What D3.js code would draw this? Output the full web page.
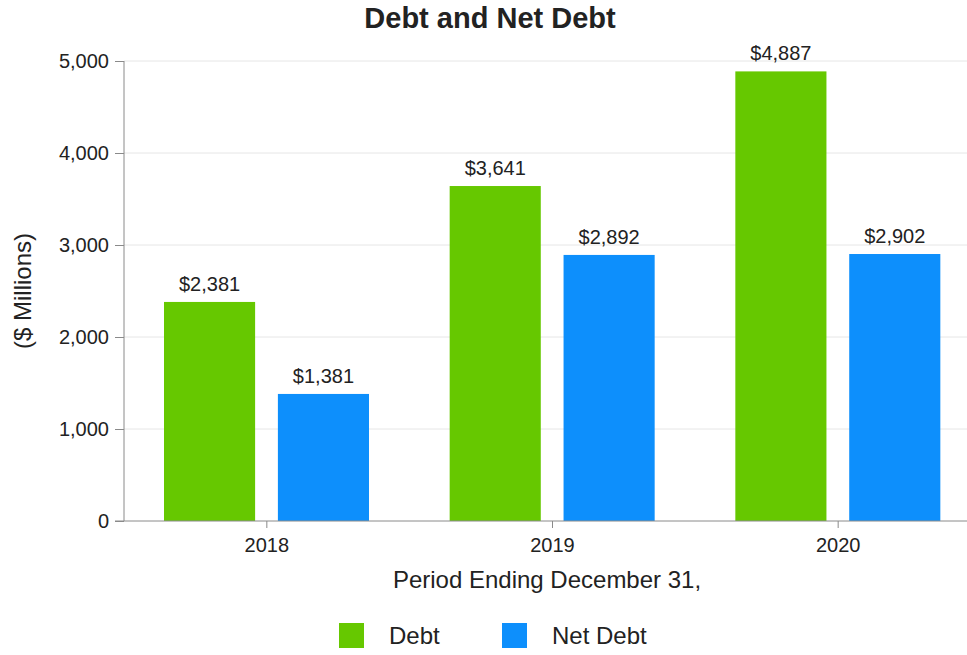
<!DOCTYPE html>
<html>
<head>
<meta charset="utf-8">
<script src="https://cdn.jsdelivr.net/npm/d3@7"></script>
<style>
  html, body { margin: 0; padding: 0; background: #fff; }
  svg { display: block; }
  text { font-family: "Liberation Sans", Arial, sans-serif; fill: #222; }
</style>
</head>
<body>
<svg id="chart" width="967" height="655"></svg>
<script>
const categories = ["2018", "2019", "2020"];
const seriesNames = ["Debt", "Net Debt"];
const debtValues = [2381, 3641, 4887];
const netDebtValues = [1381, 2892, 2902];
const yTickValues = [0, 1000, 2000, 3000, 4000, 5000];
const seriesColors = ["#66c800", "#0d8ffc"];
const titleText = "Debt and Net Debt";
const xTitleText = "Period Ending December 31,";
const yTitleText = "($ Millions)";

(function () {
const svg = d3.select("#chart");
const W = 967, H = 655;
const pLeft = 124, pRight = 981, pTop = 61, pBottom = 521;

const x = d3.scaleBand().domain(categories).range([pLeft, pRight]).padding(0);
const xInner = d3.scaleBand().domain(seriesNames).range([40, 245]).paddingInner(0.2);
const y = d3.scaleLinear().domain([0, 5000]).range([pBottom, pTop]);

const rows = categories.map((c, i) => ({ cat: c, vals: [debtValues[i], netDebtValues[i]] }));

// gridlines
svg.append("g").selectAll("line").data(yTickValues.filter(v => v > 0)).join("line")
  .attr("x1", pLeft).attr("x2", W)
  .attr("y1", d => y(d)).attr("y2", d => y(d))
  .attr("stroke", "#e6e6e6").attr("stroke-width", 1);

// bars
const groups = svg.append("g").selectAll("g").data(rows).join("g")
  .attr("transform", d => `translate(${x(d.cat)},0)`);
groups.selectAll("rect").data(d => d.vals.map((v, j) => ({ v, s: seriesNames[j], j }))).join("rect")
  .attr("x", d => xInner(d.s))
  .attr("width", xInner.bandwidth())
  .attr("y", d => y(d.v))
  .attr("height", d => y(0) - y(d.v))
  .attr("fill", d => seriesColors[d.j]);
groups.selectAll("text").data(d => d.vals.map((v, j) => ({ v, s: seriesNames[j] }))).join("text")
  .attr("x", d => xInner(d.s) + xInner.bandwidth() / 2)
  .attr("y", d => y(d.v) - 11)
  .attr("text-anchor", "middle")
  .attr("font-size", 20)
  .text(d => "$" + d3.format(",")(d.v));

// y axis
const yAxis = svg.append("g").attr("transform", `translate(${pLeft},0)`)
  .call(d3.axisLeft(y).tickValues(yTickValues).tickFormat(d3.format(",")).tickSize(9).tickPadding(6));
yAxis.select(".domain").attr("stroke", "#8a8a8a").attr("d", `M0,${pTop}V${pBottom}`);
yAxis.selectAll(".tick line").attr("stroke", "#8a8a8a");
yAxis.selectAll(".tick text").attr("font-size", 20).attr("fill", "#222")
  .attr("font-family", "Liberation Sans, Arial, sans-serif");

// x axis
const xAxis = svg.append("g").attr("transform", `translate(0,${pBottom})`)
  .call(d3.axisBottom(x).tickSize(7).tickPadding(10));
xAxis.select(".domain").attr("stroke", "#8a8a8a").attr("d", `M${pLeft - 9},0H${W}`);
xAxis.selectAll(".tick line").attr("stroke", "#8a8a8a");
xAxis.selectAll(".tick text").attr("font-size", 20).attr("fill", "#222")
  .attr("font-family", "Liberation Sans, Arial, sans-serif");

// titles
svg.append("text").attr("x", 490).attr("y", 28).attr("text-anchor", "middle")
  .attr("font-size", 29).attr("font-weight", "bold").attr("fill", "#111").text(titleText);
svg.append("text").attr("x", 547).attr("y", 588).attr("text-anchor", "middle")
  .attr("font-size", 24).text(xTitleText);
svg.append("text").attr("transform", "translate(31,291) rotate(-90)").attr("text-anchor", "middle")
  .attr("font-size", 24).text(yTitleText);

// legend
const legendX = [339, 502];
const leg = svg.append("g").selectAll("g").data(seriesNames).join("g")
  .attr("transform", (d, i) => `translate(${legendX[i]},623)`);
leg.append("rect").attr("width", 25).attr("height", 25).attr("fill", (d, i) => seriesColors[i]);
leg.append("text").attr("x", 50).attr("y", 21).attr("font-size", 24).text(d => d);
})();
</script>
</body>
</html>
